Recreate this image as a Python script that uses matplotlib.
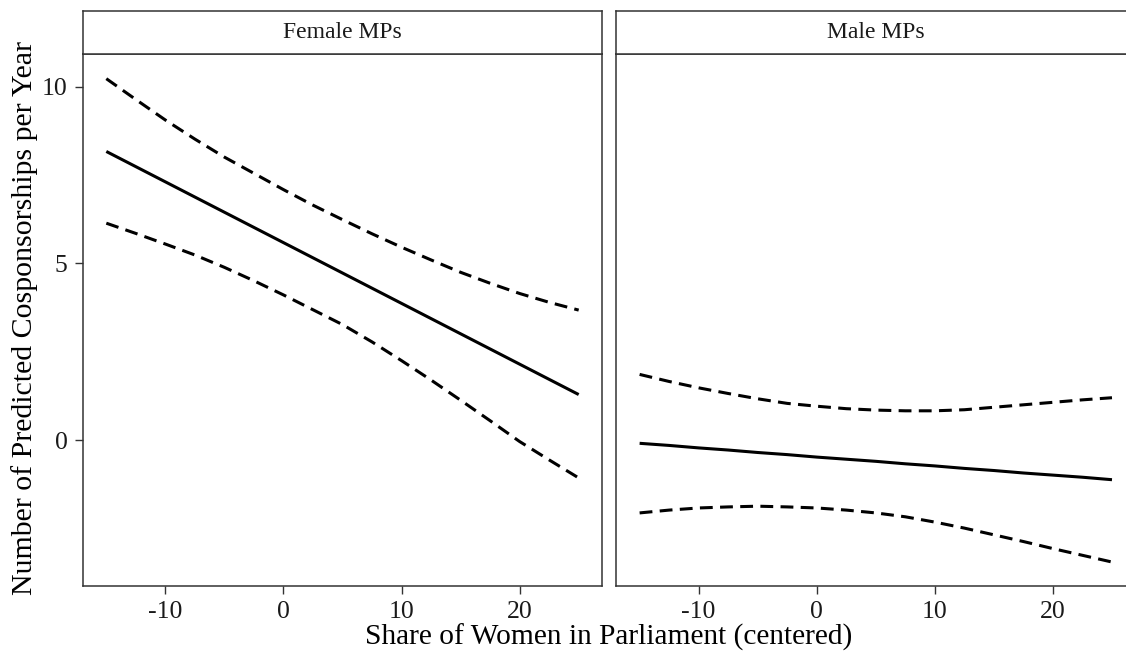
import matplotlib
matplotlib.use("Agg")
import matplotlib.pyplot as plt

plt.rcParams["font.family"] = ["Liberation Serif", "DejaVu Serif"]

# data (x = share of women, centered)
share = [-15, -12.5, -10, -7.5, -5, -2.5, 0, 2.5, 5, 7.5,
         10, 12.5, 15, 17.5, 20, 22.5, 25]

female_fit = [8.17, 7.74, 7.31, 6.88, 6.45, 6.02, 5.59, 5.16, 4.73, 4.30,
              3.87, 3.44, 3.01, 2.58, 2.15, 1.72, 1.29]
female_upper = [10.23, 9.64, 9.06, 8.52, 8.01, 7.55, 7.09, 6.65, 6.24, 5.84,
                5.46, 5.10, 4.75, 4.44, 4.15, 3.90, 3.68]
female_lower = [6.14, 5.85, 5.55, 5.24, 4.89, 4.51, 4.11, 3.69, 3.27, 2.78,
                2.25, 1.70, 1.13, 0.55, -0.04, -0.56, -1.07]

male_fit = [-0.09, -0.15, -0.22, -0.28, -0.35, -0.41, -0.48, -0.54, -0.60,
            -0.67, -0.73, -0.80, -0.86, -0.93, -0.99, -1.05, -1.12]
male_upper = [1.86, 1.66, 1.48, 1.32, 1.17, 1.04, 0.96, 0.89, 0.85, 0.83,
              0.83, 0.86, 0.93, 1.00, 1.07, 1.14, 1.20]
male_lower = [-2.06, -1.98, -1.92, -1.89, -1.87, -1.89, -1.92, -1.98, -2.06,
              -2.17, -2.32, -2.49, -2.68, -2.87, -3.07, -3.26, -3.45]

panels = [
    ("Female MPs", female_fit, female_upper, female_lower),
    ("Male MPs", male_fit, male_upper, male_lower),
]
xticks = [-10, 0, 10, 20]
yticks = [0, 5, 10]

W, H = 1126, 652
fig = plt.figure(figsize=(W / 100, H / 100), dpi=100)

frame_col = "#333333"
text_col = "#1a1a1a"
panel_left = [82.7, 616.0]
panel_w = 519.6
top_strip, bot_strip, bot_panel = 11.0, 54.3, 585.7

for i, (title, fit, up, lo) in enumerate(panels):
    x0 = panel_left[i] / W
    ax = fig.add_axes([x0, (H - bot_panel) / H, panel_w / W,
                       (bot_panel - bot_strip) / H])
    ax.plot(share, fit, color="black", lw=2.2, solid_capstyle="butt")
    for band in (up, lo):
        ax.plot(share, band, color="black", lw=2.2,
                linestyle=(0, (4.2, 2.4)), dash_capstyle="butt")
    ax.set_xlim(-17, 27)
    ax.set_ylim(-4.12, 10.92)
    ax.set_xticks(xticks)
    ax.set_xticklabels([str(t) for t in xticks])
    ax.set_yticks(yticks)
    if i == 0:
        ax.set_yticklabels([str(t) for t in yticks])
    else:
        ax.tick_params(axis="y", left=False, labelleft=False)
    ax.tick_params(length=6, width=1, color=frame_col, labelsize=18.5,
                   labelcolor=text_col, pad=5)
    for sp in ax.spines.values():
        sp.set_color(frame_col)
        sp.set_linewidth(1.1)

    sx = fig.add_axes([x0, (H - bot_strip) / H, panel_w / W,
                       (bot_strip - top_strip) / H])
    sx.set_xticks([])
    sx.set_yticks([])
    for sp in sx.spines.values():
        sp.set_color(frame_col)
        sp.set_linewidth(1.1)
    sx.text(0.5, 0.5, title, ha="center", va="center", fontsize=17,
            color=text_col, transform=sx.transAxes)

fig.text(608.8 / W, 1 - 637 / H, "Share of Women in Parliament (centered)",
         ha="center", va="center", fontsize=21.2, color="black")
fig.text(25 / W, 1 - 318 / H, "Number of Predicted Cosponsorships per Year",
         ha="center", va="center", rotation=90, fontsize=21.5, color="black")

fig.savefig("out.png", dpi=100)
